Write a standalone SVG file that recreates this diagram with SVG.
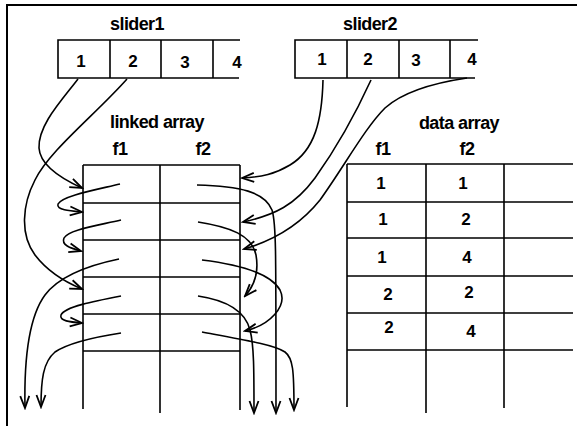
<svg xmlns="http://www.w3.org/2000/svg" width="581" height="426" viewBox="0 0 581 426">
<style>
.ln{stroke:#000;stroke-width:1.6;fill:none}
.fr{stroke:#000;stroke-width:2;fill:none}
.cv{stroke:#000;stroke-width:1.6;fill:none;marker-end:url(#ah)}
.lb{font-family:"Liberation Sans",Arial,sans-serif;font-weight:bold;font-size:18px;letter-spacing:-0.6px;text-anchor:middle;fill:#000}
.dg{font-family:"Liberation Sans",Arial,sans-serif;font-weight:bold;font-size:17px;text-anchor:middle;fill:#000}
</style>
<defs>
<marker id="ah" viewBox="-14 -7 16 14" refX="0" refY="0" markerWidth="16" markerHeight="14" orient="auto" markerUnits="userSpaceOnUse">
<path d="M-12,-4.5 L0,0 L-12,4.5" fill="none" stroke="#000" stroke-width="1.8" stroke-linejoin="miter"/>
</marker>
</defs>
<rect width="581" height="426" fill="#fff"/>
<g id="frame">
<path class="fr" d="M7,426 L7,5 L577,5"/>
</g>
<g id="slider1">
<text class="lb" x="137" y="30">slider1</text>
<path class="ln" d="M240,40 L58,40 L58,78 L239,78 M110,40 L110,78 M161,40 L161,78 M213,40 L213,78"/>
<text class="dg" x="81" y="67">1</text>
<text class="dg" x="133" y="67">2</text>
<text class="dg" x="185" y="68">3</text>
<text class="dg" x="237" y="68">4</text>
</g>
<g id="slider2">
<text class="lb" x="370" y="30">slider2</text>
<path class="ln" d="M478,40 L295,40 L295,78 L475,78 M347,40 L347,78 M399,40 L399,78 M450,40 L450,78"/>
<text class="dg" x="322" y="65">1</text>
<text class="dg" x="368" y="65">2</text>
<text class="dg" x="416" y="66">3</text>
<text class="dg" x="472" y="65">4</text>
</g>
<g id="linked-array">
<text class="lb" x="157" y="128">linked array</text>
<text class="lb" x="120" y="155">f1</text>
<text class="lb" x="203" y="155">f2</text>
<path class="ln" d="M83,165 L240,165 M83,203 L240,203 M83,240 L240,240 M83,277 L240,277 M83,314 L240,314 M83,351 L240,351 M83,165 L83,409 M160,165 L160,413 M240,165 L240,410"/>
</g>
<g id="data-array">
<text class="lb" x="459" y="129">data array</text>
<text class="lb" x="383" y="155">f1</text>
<text class="lb" x="467" y="155">f2</text>
<path class="ln" d="M347,164 L573,164 M347,202 L573,202 M347,238 L573,238 M347,276 L573,276 M347,313 L573,313 M347,350 L573,350 M347,164 L347,407 M426,164 L426,413 M504,164 L504,408"/>
<text class="dg" x="381" y="189">1</text>
<text class="dg" x="463" y="189">1</text>
<text class="dg" x="383" y="225">1</text>
<text class="dg" x="466" y="225">2</text>
<text class="dg" x="382" y="263">1</text>
<text class="dg" x="467" y="263">4</text>
<text class="dg" x="388" y="300">2</text>
<text class="dg" x="469" y="298">2</text>
<text class="dg" x="389" y="333">2</text>
<text class="dg" x="471" y="337">4</text>
</g>
<g id="connectors">
<path class="cv" d="M78,79 C62,100 38,125 39,148 C40,165 60,178 82,188"/>
<path class="cv" d="M127,79 C95,115 50,150 35,180 C22,205 20,235 35,255 C48,272 65,282 82,289"/>
<path class="cv" d="M120,184 C95,190 62,196 58,204 C56,210 70,211 82,212"/>
<path class="cv" d="M121,220 C95,226 68,230 64,238 C61,245 70,248 81,251"/>
<path class="cv" d="M119,259 C90,265 60,275 45,295 C28,318 24,360 25,408"/>
<path class="cv" d="M121,296 C95,301 64,307 61,315 C59,321 70,322 82,323"/>
<path class="cv" d="M121,333 C95,337 70,342 55,352 C43,362 41,380 41,407"/>
<path class="cv" d="M323,80 C322,120 315,150 290,165 C275,174 262,177 242,178"/>
<path class="cv" d="M371,80 C355,115 335,150 315,178 C295,205 275,215 243,222"/>
<path class="cv" d="M467,78 C440,82 405,90 385,108 C365,128 345,165 320,200 C300,225 275,240 244,249"/>
<path class="cv" d="M197,185 C240,186 265,192 272,210 C276,222 276,240 276,413"/>
<path class="cv" d="M198,222 C230,227 252,235 256,255 C259,272 255,285 245,296"/>
<path class="cv" d="M202,260 C235,264 270,272 280,290 C288,306 270,325 245,331"/>
<path class="cv" d="M198,296 C225,300 245,310 250,330 C254,345 254,370 254,413"/>
<path class="cv" d="M202,332 C245,340 275,345 285,352 C293,358 294,370 294,410"/>
</g>
</svg>
